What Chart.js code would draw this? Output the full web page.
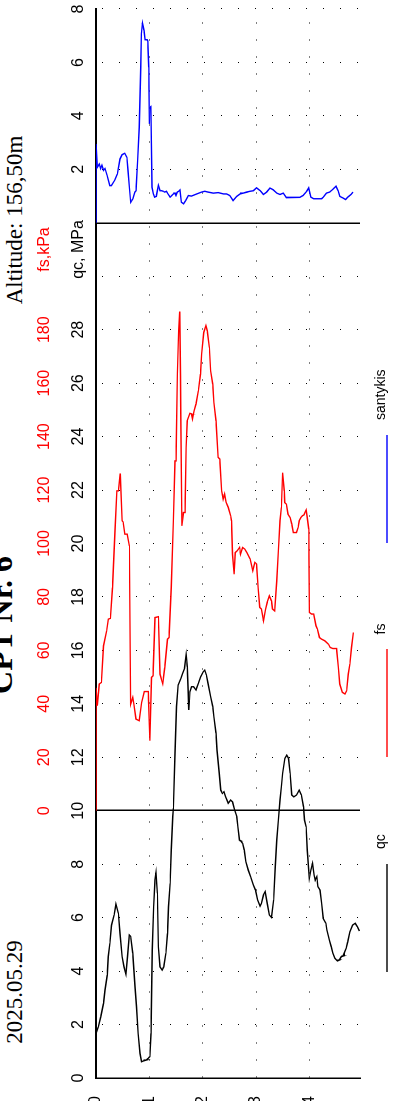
<!DOCTYPE html>
<html>
<head>
<meta charset="utf-8">
<title>CPT Nr. 6</title>
<script src="https://cdn.jsdelivr.net/npm/chart.js@4.4.1/dist/chart.umd.min.js"></script>
<style>
    html, body { margin: 0; padding: 0; background: #fff; overflow: hidden; width: 395px; height: 1101px; }
    /* the plot is laid out upright (1101 x 395) and turned a quarter left */
    #frame { position: absolute; left: 0; top: 0; width: 1101px; height: 395px;
             transform-origin: 0 0; transform: translateY(1101px) rotate(-90deg); }
    #cpt { position: absolute; left: -6px; top: 0; width: 1107px; height: 395px; }
    .caption { position: absolute; white-space: nowrap; transform: translateX(-50%);
               font-family: "Liberation Serif", "Times New Roman", serif; color: #000; }
    #title { font-size: 32px; line-height: 32px; font-weight: bold; left: 476px; top: -15px; }
    #date { font-size: 23px; line-height: 23px; left: 109px; top: 3px; }
    #altitude { font-size: 23px; line-height: 23px; left: 881px; top: 3px; }
    .legend-line { position: absolute; top: 386px; width: 108px; height: 1.5px; opacity: 0.7; }
    .legend-text { position: absolute; top: 373px; white-space: nowrap;
                   font: 14px/14px "Liberation Sans", Arial, sans-serif; color: #000; }
</style>
</head>
<body>
<div id="frame">
    <div id="title" class="caption">CPT Nr. 6</div>
    <div id="date" class="caption">2025.05.29</div>
    <div id="altitude" class="caption">Altitude: 156,50m</div>
    <canvas id="cpt" width="1107" height="395"></canvas>
</div>
<script>
// depth in m, qc in MPa
const qcDepth = [0, 0.005, 0.044, 0.088, 0.14, 0.17, 0.21, 0.23, 0.26, 0.29, 0.34, 0.375, 0.42, 0.45, 0.49, 0.525, 0.56, 0.59, 0.625, 0.65, 0.69, 0.73, 0.76, 0.79, 0.825, 0.855, 0.89, 0.94, 0.98, 1.01, 1.03, 1.055, 1.08, 1.106, 1.125, 1.15, 1.17, 1.2, 1.24, 1.27, 1.31, 1.34, 1.36, 1.39, 1.41, 1.44, 1.45, 1.48, 1.51, 1.54, 1.59, 1.625, 1.66, 1.69, 1.71, 1.73, 1.74, 1.76, 1.79, 1.83, 1.875, 1.92, 1.96, 2.01, 2.04, 2.07, 2.1, 2.15, 2.19, 2.21, 2.25, 2.27, 2.31, 2.34, 2.37, 2.4, 2.43, 2.48, 2.525, 2.56, 2.6, 2.64, 2.66, 2.69, 2.71, 2.75, 2.78, 2.81, 2.855, 2.9, 2.95, 2.99, 3.03, 3.075, 3.1, 3.14, 3.17, 3.21, 3.25, 3.29, 3.33, 3.36, 3.39, 3.42, 3.45, 3.475, 3.5, 3.54, 3.575, 3.61, 3.64, 3.67, 3.71, 3.76, 3.81, 3.85, 3.89, 3.91, 3.94, 3.96, 4.0, 4.03, 4.06, 4.09, 4.11, 4.14, 4.16, 4.2, 4.23, 4.26, 4.31, 4.33, 4.375, 4.41, 4.44, 4.48, 4.525, 4.56, 4.6, 4.63, 4.69, 4.72, 4.76, 4.81, 4.86, 4.9, 4.94];
const qcValues = [0.3, 1.7, 1.92, 2.29, 2.79, 3.29, 3.85, 4.54, 5.04, 5.72, 6.1, 6.51, 6.16, 5.41, 4.54, 4.16, 3.89, 4.54, 5.35, 5.3, 4.67, 3.42, 2.67, 1.67, 0.92, 0.61, 0.64, 0.67, 0.74, 0.8, 1.67, 4.79, 6.4, 7.41, 7.68, 6.91, 4.91, 4.16, 4.04, 4.16, 4.67, 5.41, 6.41, 7.28, 8.53, 9.78, 10.1, 12.15, 13.9, 14.7, 14.95, 15.14, 15.33, 15.83, 15.39, 14.39, 13.77, 14.45, 14.64, 14.64, 14.52, 14.77, 15.01, 15.2, 15.26, 15.08, 14.77, 14.27, 13.9, 13.52, 12.9, 12.27, 11.4, 10.77, 10.65, 10.71, 10.52, 10.28, 10.4, 10.33, 10.03, 9.78, 9.4, 8.9, 8.88, 8.78, 8.53, 8.09, 7.78, 7.53, 7.22, 7.03, 6.66, 6.43, 6.53, 6.85, 6.97, 6.53, 6.1, 6.01, 6.66, 7.9, 8.9, 9.65, 10.4, 10.9, 11.4, 11.96, 12.08, 11.96, 11.4, 10.59, 10.52, 10.59, 10.77, 10.59, 10.15, 9.65, 9.4, 8.53, 7.47, 7.78, 8.03, 7.59, 7.4, 7.53, 7.16, 7.03, 6.54, 5.97, 5.79, 5.54, 5.16, 4.91, 4.67, 4.48, 4.38, 4.41, 4.54, 4.56, 4.85, 5.1, 5.47, 5.72, 5.79, 5.66, 5.5];

// fs in kPa
const fsDepth = [0, 0, 0.025, 0.06, 0.1, 0.14, 0.2, 0.23, 0.27, 0.31, 0.356, 0.39, 0.42, 0.456, 0.49, 0.51, 0.54, 0.585, 0.625, 0.65, 0.69, 0.71, 0.75, 0.81, 0.855, 0.905, 0.98, 1.01, 1.04, 1.07, 1.106, 1.17, 1.2, 1.25, 1.29, 1.34, 1.37, 1.41, 1.45, 1.48, 1.5, 1.525, 1.55, 1.57, 1.585, 1.59, 1.61, 1.64, 1.67, 1.69, 1.71, 1.76, 1.79, 1.81, 1.84, 1.875, 1.92, 1.96, 1.98, 2.02, 2.06, 2.085, 2.125, 2.15, 2.19, 2.21, 2.25, 2.29, 2.32, 2.355, 2.385, 2.41, 2.44, 2.48, 2.525, 2.54, 2.56, 2.59, 2.61, 2.65, 2.69, 2.71, 2.75, 2.79, 2.83, 2.89, 2.94, 2.98, 3.01, 3.04, 3.07, 3.1, 3.14, 3.18, 3.21, 3.25, 3.29, 3.31, 3.35, 3.39, 3.42, 3.45, 3.475, 3.5, 3.53, 3.54, 3.57, 3.6, 3.64, 3.67, 3.7, 3.76, 3.79, 3.81, 3.84, 3.87, 3.9, 3.94, 3.96, 3.99, 4.0, 4.04, 4.08, 4.125, 4.15, 4.19, 4.23, 4.29, 4.36, 4.39, 4.44, 4.51, 4.545, 4.57, 4.62, 4.67, 4.7, 4.73, 4.76, 4.79, 4.825];
const fsValues = [0, 46, 39.3, 47.4, 48, 61.7, 67.3, 71.7, 72, 83.5, 104.8, 119.7, 119.7, 126.2, 108.5, 108, 103.5, 103.5, 99.1, 39.9, 42.4, 39.9, 34.3, 33.7, 40.5, 44.6, 44.6, 26.2, 49.9, 50.5, 72.3, 72.6, 51.1, 47.6, 53.6, 64.2, 64.8, 83.5, 108.5, 130.9, 130.9, 163.4, 179.6, 186.8, 162.7, 149.6, 106.6, 111.6, 111.6, 135.9, 145.9, 148.7, 148.5, 146.6, 149.7, 152.2, 157.2, 163.4, 170.9, 179, 181.5, 179.6, 173.3, 164.6, 159.6, 152.8, 145.9, 132.2, 131.6, 119.7, 116.6, 118.5, 115.4, 113.5, 110.4, 108.5, 96, 88.5, 96.6, 97.3, 98.5, 96, 98.5, 97.9, 96.6, 94.2, 89.8, 92.9, 92.3, 83.5, 76.1, 75.5, 71.1, 75.5, 78, 80.4, 78.5, 75.5, 74.8, 86, 97.3, 108.5, 113.5, 126.5, 119.7, 115.3, 114.7, 111, 109.7, 107.3, 104.1, 104.1, 106, 108.5, 109.7, 110.4, 110.7, 112.5, 109.7, 105.4, 74.2, 73.6, 73.6, 69.2, 68, 64.8, 64.2, 63.6, 62.3, 61.1, 60.7, 60.7, 53.6, 47.4, 44.3, 43.7, 44.9, 51.1, 54.9, 61.1, 66.7];

// friction ratio (santykis)
const ratioDepth = [0, 0, 0.025, 0.063, 0.088, 0.11, 0.14, 0.17, 0.21, 0.26, 0.29, 0.356, 0.4, 0.45, 0.49, 0.54, 0.58, 0.6, 0.625, 0.65, 0.69, 0.73, 0.75, 0.78, 0.81, 0.84, 0.85, 0.87, 0.9, 0.92, 0.96, 0.97, 0.99, 1.0, 1.01, 1.03, 1.05, 1.075, 1.1, 1.13, 1.17, 1.2, 1.23, 1.26, 1.29, 1.32, 1.35, 1.39, 1.42, 1.45, 1.48, 1.5, 1.525, 1.55, 1.575, 1.6, 1.64, 1.68, 1.73, 1.79, 1.89, 1.98, 2.04, 2.1, 2.2, 2.29, 2.39, 2.45, 2.51, 2.57, 2.64, 2.7, 2.76, 2.82, 2.89, 2.95, 3.01, 3.08, 3.14, 3.2, 3.26, 3.32, 3.39, 3.45, 3.51, 3.57, 3.64, 3.7, 3.76, 3.82, 3.88, 3.95, 3.99, 4.03, 4.08, 4.14, 4.23, 4.26, 4.32, 4.38, 4.45, 4.5, 4.54, 4.57, 4.63, 4.68, 4.72, 4.78, 4.82];
const ratioValues = [0, 2.95, 2.08, 2.2, 2.03, 2.15, 1.96, 2.03, 1.77, 1.39, 1.39, 1.61, 1.83, 2.39, 2.55, 2.6, 2.45, 1.96, 1.33, 0.77, 0.9, 1.15, 1.2, 2.33, 3.58, 5.82, 7.07, 7.47, 7.2, 6.85, 6.85, 6.8, 5.82, 3.7, 4.32, 4.35, 1.33, 1.08, 0.96, 0.99, 1.4, 1.2, 1.2, 1.18, 1.15, 1.18, 1.08, 0.96, 1.02, 1.08, 1.11, 1.02, 1.15, 1.18, 1.23, 0.77, 0.71, 0.83, 1.02, 1.0, 1.08, 1.15, 1.18, 1.15, 1.11, 1.13, 1.08, 1.08, 1.02, 0.83, 0.99, 1.08, 1.11, 1.15, 1.18, 1.2, 1.31, 1.2, 1.06, 1.15, 1.3, 1.24, 1.11, 1.06, 1.11, 0.94, 0.93, 0.96, 0.96, 0.96, 1.02, 1.18, 1.31, 0.96, 0.9, 0.9, 0.9, 0.96, 1.11, 1.15, 1.27, 1.37, 1.2, 0.99, 0.93, 0.87, 0.96, 1.06, 1.15];

const seriesNames = ['qc', 'fs', 'santykis'];
const seriesColors = ['#000000', '#ff0000', '#0000ff'];

// tick labels
const qcTicks = [0, 2, 4, 6, 8, 10, 12, 14, 16, 18, 20, 22, 24, 26, 28];
const fsTicks = [0, 20, 40, 60, 80, 100, 120, 140, 160, 180];
const ratioTicks = [2, 4, 6, 8];
const depthTicks = [0, 1, 2, 3, 4];
const qcTitle = 'qc, MPa';
const fsTitle = 'fs,kPa';

// the three panels share one value axis: qc from 0, fs from 10, santykis from 32
const qcAxis = v => v;
const fsAxis = v => 10 + v / 10;
const ratioAxis = v => 32 + v;
const axisMax = 40;
const titlePos = 31;
const solidLines = [fsAxis(0), ratioAxis(0)];

function toPoints(depths, values, toAxis) {
    return depths.map((d, i) => ({ x: toAxis(values[i]), y: d }));
}

const qcLabels = new Map();
qcTicks.forEach(v => qcLabels.set(qcAxis(v), String(v)));
qcLabels.set(30, '');
qcLabels.set(titlePos, qcTitle);
qcLabels.set(ratioAxis(0), '');
ratioTicks.forEach(v => qcLabels.set(ratioAxis(v), String(v)));

const fsLabels = new Map();
fsTicks.forEach(v => fsLabels.set(fsAxis(v), String(v)));
fsLabels.set(titlePos, fsTitle);

const tickFont = { family: "'Liberation Sans', Arial, sans-serif", size: 16 };

function setTicks(labels) {
    return scale => {
        scale.ticks = [...labels.keys()].sort((a, b) => a - b).map(v => ({ value: v }));
    };
}

const chart = new Chart(document.getElementById('cpt'), {
    type: 'line',
    data: {
        datasets: [
            { label: seriesNames[0], data: toPoints(qcDepth, qcValues, qcAxis), borderColor: seriesColors[0] },
            { label: seriesNames[1], data: toPoints(fsDepth, fsValues, fsAxis), borderColor: seriesColors[1] },
            { label: seriesNames[2], data: toPoints(ratioDepth, ratioValues, ratioAxis), borderColor: seriesColors[2] }
        ].map(ds => Object.assign(ds, {
            xAxisID: 'x', yAxisID: 'y', borderWidth: 1.4, pointRadius: 0, tension: 0, fill: false
        }))
    },
    options: {
        indexAxis: 'y',
        responsive: false,
        animation: false,
        devicePixelRatio: 1,
        layout: { padding: { left: 0, right: 9, top: 0, bottom: 35 } },
        plugins: { legend: { display: false }, tooltip: { enabled: false } },
        scales: {
            x: {
                type: 'linear', position: 'top', min: 0, max: axisMax, weight: 0,
                afterBuildTicks: setTicks(qcLabels),
                afterFit: s => { s.height = 27; s.paddingLeft = 0; s.paddingRight = 0; },
                ticks: {
                    autoSkip: false, maxRotation: 0, minRotation: 0, padding: 8,
                    color: '#000', font: tickFont,
                    callback: v => qcLabels.get(v) || ''
                },
                grid: {
                    drawTicks: false,
                    color: c => (c.tick && (c.tick.value === 0 || c.tick.value === titlePos)) ? 'rgba(0,0,0,0)' : '#000',
                    lineWidth: c => (c.tick && solidLines.includes(c.tick.value)) ? 1.5 : 1
                },
                border: {
                    color: '#000', width: 2,
                    dash: c => (c.tick && solidLines.includes(c.tick.value)) ? [] : [1, 16],
                    dashOffset: 12
                }
            },
            x2: {
                type: 'linear', position: 'top', min: 0, max: axisMax, weight: 1,
                afterBuildTicks: setTicks(fsLabels),
                afterFit: s => { s.height = 69; s.paddingLeft = 0; s.paddingRight = 0; },
                ticks: {
                    autoSkip: false, maxRotation: 0, minRotation: 0, padding: 7,
                    color: '#ff0000', font: tickFont,
                    callback: v => fsLabels.get(v) || ''
                },
                grid: { display: false },
                border: { display: false }
            },
            y: {
                type: 'linear', position: 'left', reverse: true, min: 0, max: 4.95,
                afterBuildTicks: s => { s.ticks = depthTicks.map(v => ({ value: v })); },
                afterFit: s => { s.width = 29; s.paddingTop = 0; s.paddingBottom = 0; },
                ticks: { padding: 18, color: '#000', font: tickFont, callback: v => String(v) },
                grid: {
                    drawTicks: false,
                    color: c => (c.tick && c.tick.value === 0) ? 'rgba(0,0,0,0)' : '#000',
                    lineWidth: 1
                },
                border: { color: '#000', width: 1.5, dash: [1, 16], dashOffset: 0 }
            }
        }
    }
});

// legend below the plot, built from the datasets
const frame = document.getElementById('frame');
const legendLeft = 129;
const legendStep = 214.5;
chart.data.datasets.forEach((ds, i) => {
    const x = legendLeft + i * legendStep;
    const line = document.createElement('div');
    line.className = 'legend-line';
    line.style.left = x + 'px';
    line.style.background = ds.borderColor;
    const text = document.createElement('div');
    text.className = 'legend-text';
    text.style.left = (x + 123) + 'px';
    text.textContent = ds.label;
    frame.appendChild(line);
    frame.appendChild(text);
});
</script>
</body>
</html>
